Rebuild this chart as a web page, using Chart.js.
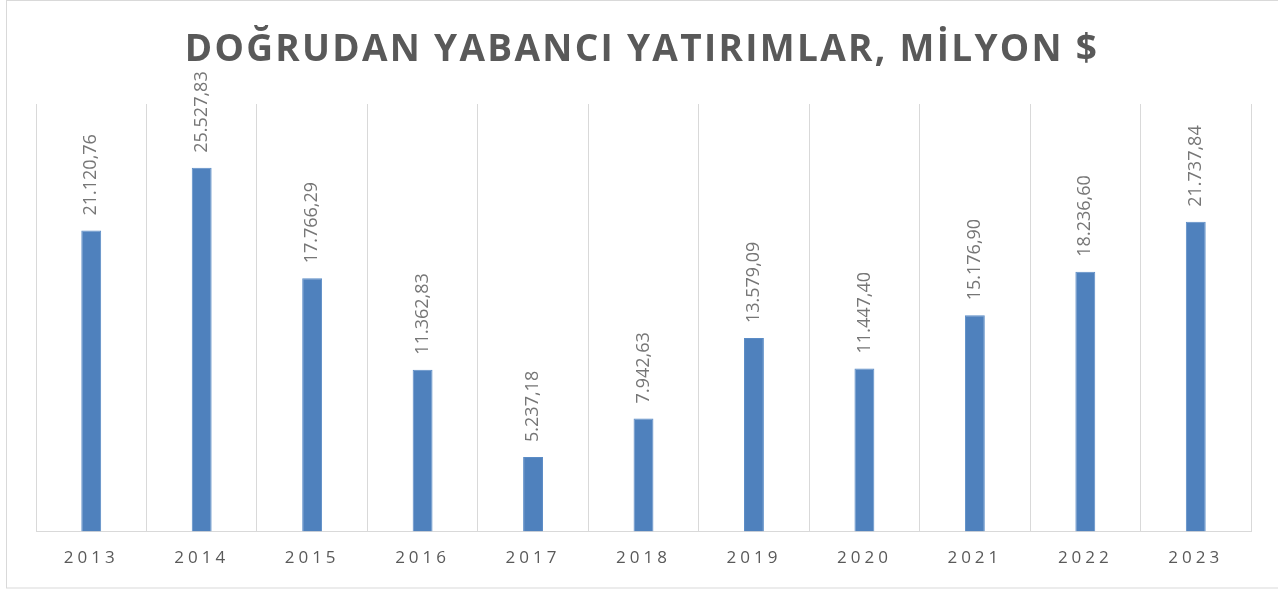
<!DOCTYPE html>
<html>
<head>
<meta charset="utf-8">
<script src="https://cdn.jsdelivr.net/npm/chart.js@4/dist/chart.umd.min.js"></script>
<style>
  html, body { margin: 0; padding: 0; background: #ffffff; }
  #wrap { position: relative; width: 1278px; height: 589px; }
</style>
</head>
<body>
<div id="wrap"><canvas id="c" width="1278" height="589"></canvas></div>
<script>
const chartTitle = "DOĞRUDAN YABANCI YATIRIMLAR, MİLYON $";
const years = ["2013","2014","2015","2016","2017","2018","2019","2020","2021","2022","2023"];
const investments = [21120.76, 25527.83, 17766.29, 11362.83, 5237.18, 7942.63, 13579.09, 11447.40, 15176.90, 18236.60, 21737.84];
const yMin = 0;
const yMax = 30000;

function formatTR(v) {
  const parts = v.toFixed(2).split(".");
  const intPart = parts[0].replace(/\B(?=(\d{3})+(?!\d))/g, ".");
  return intPart + "," + parts[1];
}

const decorPlugin = {
  id: 'decor',
  beforeDraw(chart) {
    const ctx = chart.ctx;
    ctx.save();
    ctx.fillStyle = '#ffffff';
    ctx.fillRect(0, 0, chart.width, chart.height);
    ctx.strokeStyle = '#d9d9d9';
    ctx.lineWidth = 1;
    ctx.strokeRect(6.5, 0.5, 1290, 587.5);
    // title
    ctx.font = 'bold 37px "Open Sans", sans-serif';
    ctx.letterSpacing = '2.3px';
    ctx.fillStyle = '#595959';
    ctx.textAlign = 'center';
    ctx.textBaseline = 'alphabetic';
    ctx.fillText(chartTitle, 642, 61);
    ctx.restore();
    ctx.letterSpacing = '4px';
  },
  beforeDatasetsDraw(chart) {
    chart.ctx.letterSpacing = '0px';
  },
  afterDatasetsDraw(chart) {
    const ctx = chart.ctx;
    const meta = chart.getDatasetMeta(0);
    ctx.save();
    ctx.letterSpacing = '0px';
    ctx.font = '18px "Open Sans", sans-serif';
    ctx.fillStyle = '#767676';
    ctx.textAlign = 'left';
    ctx.textBaseline = 'middle';
    meta.data.forEach((bar, i) => {
      ctx.save();
      ctx.translate(bar.x, bar.y - 15);
      ctx.rotate(-Math.PI / 2);
      ctx.fillText(formatTR(investments[i]), 0, 0);
      ctx.restore();
    });
    ctx.restore();
  }
};

new Chart(document.getElementById('c'), {
  type: 'bar',
  data: {
    labels: years,
    datasets: [{
      data: investments,
      backgroundColor: '#4f81bd',
      borderColor: '#5b8cc6',
      borderWidth: 1,
      barPercentage: 0.18,
      categoryPercentage: 1.0
    }]
  },
  options: {
    responsive: false,
    animation: false,
    layout: { padding: { left: 36, right: 27, top: 104, bottom: 5 } },
    plugins: { legend: { display: false }, title: { display: false }, tooltip: { enabled: false } },
    scales: {
      x: {
        offset: true,
        grid: { display: true, offset: true, color: '#d9d9d9', lineWidth: 1, drawTicks: false },
        border: { display: true, color: '#d9d9d9', width: 1 },
        ticks: { color: '#595959', font: { family: '"Open Sans", sans-serif', size: 17 }, padding: 16 }
      },
      y: {
        display: false,
        min: yMin,
        max: yMax
      }
    }
  },
  plugins: [decorPlugin]
});
</script>
</body>
</html>
